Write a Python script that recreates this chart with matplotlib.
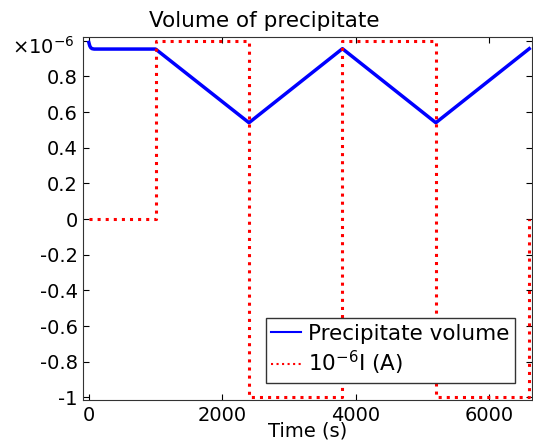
import matplotlib
matplotlib.use('Agg')
import matplotlib.pyplot as plt

plt.rcParams['axes.unicode_minus'] = False
plt.rcParams['mathtext.default'] = 'regular'

# precipitate volume (x 1e-6)
t_vol = [0, 15, 30, 50, 80, 1000, 2400, 3800, 5200, 6600]
vol = [0.99, 0.97, 0.96, 0.955, 0.953, 0.953, 0.54, 0.955, 0.54, 0.955]

# current (x 1e-6 A), step changes
t_cur = [0, 1000, 2400, 3800, 5200, 6600, 6600]
cur = [0, 1, -1, 1, -1, -1, 0]

yticks = [-1, -0.8, -0.6, -0.4, -0.2, 0, 0.2, 0.4, 0.6, 0.8, 1.0]
ylabels = ['-1', '-0.8', '-0.6', '-0.4', '-0.2', '0', '0.2', '0.4', '0.6', '0.8', '']
xticks = [0, 2000, 4000, 6000]

fig = plt.figure(figsize=(5.33, 4.47), dpi=100)
ax = fig.add_axes([0.156, 0.105, 0.842, 0.812])

ax.plot(t_vol, vol, color='blue', lw=2.5, label='Precipitate volume')
ax.step(t_cur, cur, where='post', color='red', lw=2.2, ls=':', label='10$^{-6}$I (A)')

ax.set_xlim(-85, 6640)
ax.set_ylim(-1.015, 1.02)
ax.set_xticks(xticks)
ax.set_yticks(yticks)
ax.set_yticklabels(ylabels)
ax.tick_params(direction='in', top=True, right=True, labelsize=14, length=4, pad=4)
for s in ax.spines.values():
    s.set_color('#333333')

ax.set_title('Volume of precipitate', fontsize=15.5, pad=7, x=0.404)
ax.set_xlabel('Time (s)', fontsize=14, labelpad=-2)
fig.text(75 / 533, 1 - 47 / 447, r'$\times10^{-6}$', fontsize=14, ha='right', va='center')

leg = ax.legend(loc='lower right', fontsize=15.5, fancybox=False, handlelength=1.4,
                handletextpad=0.3, borderpad=0.25, labelspacing=0.25, borderaxespad=0.8)
leg.get_frame().set_edgecolor('#333333')
leg.get_frame().set_alpha(1)
for ln in leg.get_lines():
    ln.set_linewidth(1.5)

fig.savefig('out.png', dpi=100)
